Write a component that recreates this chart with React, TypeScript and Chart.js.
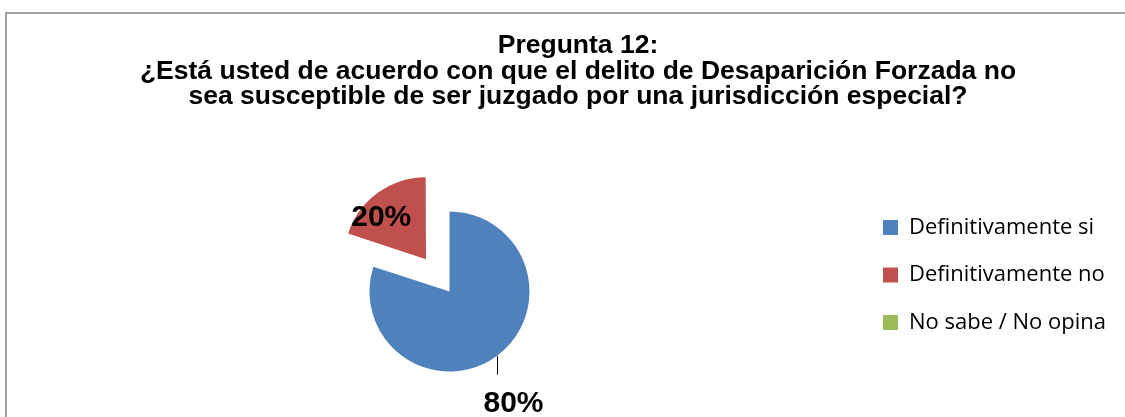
import React, { useEffect, useRef } from 'react';
import { Chart, registerables } from 'chart.js';

Chart.register(...registerables);

// ---- data ----
const TITLE_LINES = [
  'Pregunta 12:',
  '¿Está usted de acuerdo con que el delito de Desaparición Forzada no',
  'sea susceptible de ser juzgado por una jurisdicción especial?',
];
const CATEGORIES = ['Definitivamente si', 'Definitivamente no', 'No sabe / No opina'];
const VALUES = [80, 20, 0];

// ---- style ----
const COLORS = ['#4F81BD', '#C0504D', '#9BBB59'];
const EXPLODE_PX = [0, 40, 0];

const borderPlugin = {
  id: 'frame',
  beforeDraw(chart: any) {
    const { ctx, width, height } = chart;
    ctx.save();
    ctx.fillStyle = '#ffffff';
    ctx.fillRect(0, 0, width, height);
    ctx.strokeStyle = '#a0a0a0';
    ctx.lineWidth = 2;
    ctx.strokeRect(6, 13, width + 20, height + 20);
    ctx.restore();
  },
};

const pieLabelsPlugin = {
  id: 'pieLabels',
  afterDatasetsDraw(chart: any) {
    const meta = chart.getDatasetMeta(0);
    const values: number[] = chart.data.datasets[0].data;
    const total = values.reduce((a, b) => a + b, 0);
    const ctx = chart.ctx;
    ctx.save();
    ctx.font = 'bold 30px "Liberation Sans", Arial, sans-serif';
    ctx.fillStyle = '#000000';
    meta.data.forEach((arc: any, i: number) => {
      const v = values[i];
      if (!v) return;
      const { x, y, startAngle, endAngle, outerRadius } = arc.getProps(
        ['x', 'y', 'startAngle', 'endAngle', 'outerRadius'],
        true
      );
      const mid = (startAngle + endAngle) / 2;
      const text = Math.round((v / total) * 100) + '%';
      const shift = (arc.options.offset || 0) / 4;
      if (shift > 0) {
        const cx = x + Math.cos(mid) * shift;
        const cy = y + Math.sin(mid) * shift;
        const a = mid - (11 * Math.PI) / 180;
        const d = 0.765 * outerRadius;
        ctx.textAlign = 'center';
        ctx.textBaseline = 'middle';
        ctx.fillText(text, cx + Math.cos(a) * d, cy + Math.sin(a) * d);
      } else {
        const ex = x + Math.cos(mid) * outerRadius;
        const ey = y + Math.sin(mid) * outerRadius;
        const lx = Math.round(ex) + 0.5;
        ctx.strokeStyle = '#000000';
        ctx.lineWidth = 1;
        ctx.beginPath();
        ctx.moveTo(lx, ey);
        ctx.lineTo(lx, ey + 18.5);
        ctx.stroke();
        ctx.textAlign = 'center';
        ctx.textBaseline = 'alphabetic';
        ctx.fillText(text, ex + 17, ey + 55.5);
      }
    });
    ctx.restore();
  },
};

export default function App() {
  const canvasRef = useRef<HTMLCanvasElement | null>(null);

  useEffect(() => {
    const canvas = canvasRef.current;
    if (!canvas) return;
    const chart = new Chart(canvas, {
      type: 'pie',
      data: {
        labels: CATEGORIES,
        datasets: [
          {
            data: VALUES,
            backgroundColor: COLORS,
            borderWidth: 0,
            offset: EXPLODE_PX.map((p) => p * 4),
            radius: 80,
          } as any,
        ],
      },
      options: {
        responsive: false,
        animation: false,
        devicePixelRatio: 1,
        layout: { padding: { left: 41.5, right: 10.5, top: 0, bottom: 25 } },
        plugins: {
          title: {
            display: true,
            text: TITLE_LINES,
            color: '#000000',
            font: {
              family: '"Liberation Sans", Arial, sans-serif',
              size: 26.5,
              weight: 'bold',
              lineHeight: 25.5 / 26.5,
            },
            padding: { top: 33.25, bottom: 81.25 },
          },
          legend: {
            position: 'right',
            align: 'start',
            fullSize: false,
            maxWidth: 257,
            labels: {
              color: '#000000',
              font: { family: '"Open Sans", sans-serif', size: 22 },
              boxWidth: 15,
              boxHeight: 15,
              padding: 25.5,
            },
          },
          tooltip: { enabled: false },
        },
      } as any,
      plugins: [borderPlugin, pieLabelsPlugin],
    });
    return () => chart.destroy();
  }, []);

  return (
    <div style={{ position: 'absolute', left: 0, top: 0, width: 1125, height: 417 }}>
      <canvas ref={canvasRef} width={1125} height={417} />
    </div>
  );
}
